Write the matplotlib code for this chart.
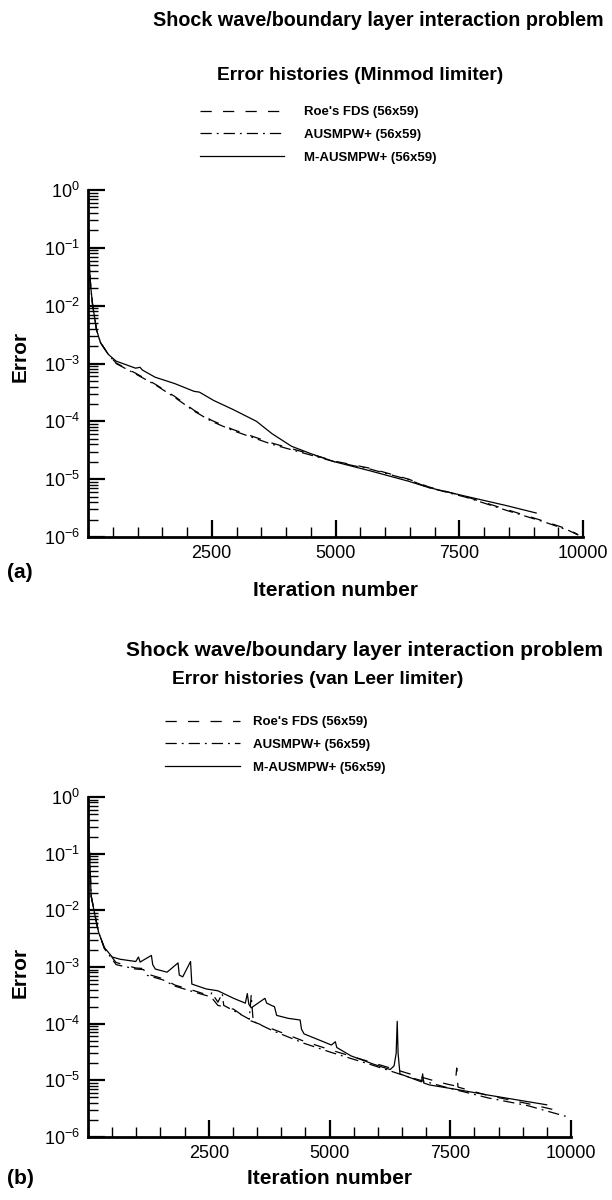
"""Error histories for the shock wave / boundary layer case, Minmod vs van Leer."""
import numpy as np
import matplotlib
matplotlib.use("Agg")
import matplotlib.pyplot as plt
from matplotlib.lines import Line2D
from matplotlib.ticker import LogLocator, MultipleLocator, FixedLocator, FuncFormatter, NullFormatter

plt.rcParams["font.family"] = ["Liberation Sans", "DejaVu Sans"]

LABELS = ["Roe's FDS (56x59)", "AUSMPW+ (56x59)", "M-AUSMPW+ (56x59)"]
TITLE = "Shock wave/boundary layer interaction problem"
SUBTITLES = ["Error histories (Minmod limiter)", "Error histories (van Leer limiter)"]
XTICKS = [2500, 5000, 7500, 10000]

# ---- (a) Minmod limiter ----
A_MAUS_X = [0, 32, 55, 95, 173, 252, 410, 567, 961, 1050, 1100, 1355, 1750, 2143, 2250,
            2537, 2931, 3404, 3719, 4113, 4507, 4980, 5690, 6478, 6872, 7660, 8448, 9054]
A_MAUS_Y = [0.5, 0.044, 0.021, 0.01, 3.8e-3, 2.3e-3, 1.44e-3, 1.1e-3, 8.3e-4, 8.6e-4, 7.7e-4,
            5.8e-4, 4.5e-4, 3.3e-4, 3.2e-4, 2.3e-4, 1.6e-4, 1.0e-4, 6.1e-5, 3.7e-5, 2.75e-5,
            2.0e-5, 1.4e-5, 9.2e-6, 7.2e-6, 5.0e-6, 3.5e-6, 2.6e-6]
A_AUS_X = [0, 32, 55, 95, 173, 252, 410, 567, 961, 1355, 1750, 2143, 2498, 2931, 3719,
           4507, 4980, 5690, 6478, 6872, 7660, 8448, 9236, 9708, 9944]
A_AUS_Y = [0.5, 0.044, 0.021, 0.01, 3.8e-3, 2.3e-3, 1.44e-3, 1.0e-3, 6.6e-4, 4.3e-4, 2.6e-4,
           1.5e-4, 1.0e-4, 6.9e-5, 4.0e-5, 2.6e-5, 2.0e-5, 1.5e-5, 9.8e-6, 7.2e-6, 4.8e-6,
           2.9e-6, 1.8e-6, 1.3e-6, 1.04e-6]
A_ROE_X = [0, 32, 55, 95, 173, 252, 410, 567, 961, 1355, 1750, 2143, 2498, 2931, 3719,
           4507, 4980, 5690, 6478, 6872, 7660, 8448, 9236, 9708, 9900]
A_ROE_Y = [0.5, 0.044, 0.021, 0.01, 3.8e-3, 2.3e-3, 1.44e-3, 1.02e-3, 6.8e-4, 4.4e-4, 2.7e-4,
           1.55e-4, 1.04e-4, 7.2e-5, 4.2e-5, 2.7e-5, 2.05e-5, 1.55e-5, 1.0e-5, 7.4e-6, 4.9e-6,
           3.0e-6, 1.85e-6, 1.35e-6, 1.1e-6]

# ---- (b) van Leer limiter ----
B_MAUS_X = [0, 32, 65, 138, 219, 340, 502, 665, 989, 1045, 1080, 1151, 1313, 1340, 1394,
            1637, 1864, 1890, 1961, 2123, 2150, 2447, 2690, 3015, 3258, 3298, 3330, 3379,
            3663, 3700, 3825, 3860, 3906, 4149, 4392, 4420, 4473, 4797, 5040, 5121, 5150,
            5446, 5932, 6256, 6337, 6380, 6402, 6420, 6459, 6904, 6929, 6950, 7066, 7634,
            8282, 9497]
B_MAUS_Y = [0.3, 0.1, 0.018, 8.7e-3, 4.1e-3, 2.2e-3, 1.5e-3, 1.37e-3, 1.25e-3, 1.5e-3,
            1.22e-3, 1.33e-3, 1.6e-3, 1.1e-3, 9.2e-4, 8.1e-4, 1.18e-3, 7.2e-4, 6.7e-4,
            1.25e-3, 5.0e-4, 4.1e-4, 3.8e-4, 2.8e-4, 2.3e-4, 3.4e-4, 2.2e-4, 1.9e-4, 2.8e-4,
            2.3e-4, 2.05e-4, 2.0e-4, 1.4e-4, 1.24e-4, 1.16e-4, 8.0e-5, 6.6e-5, 5.1e-5,
            4.2e-5, 4.8e-5, 3.8e-5, 2.7e-5, 1.9e-5, 1.55e-5, 1.8e-5, 3.0e-5, 1.1e-4, 3.0e-5,
            1.3e-5, 9.4e-6, 1.3e-5, 9.0e-6, 8.3e-6, 6.9e-6, 5.5e-6, 3.7e-6]
B_AUS_X = [0, 32, 65, 138, 219, 340, 583, 989, 1151, 1232, 1556, 1799, 2204, 2528, 2560,
           2690, 2780, 2810, 3015, 3339, 3379, 3420, 3825, 4473, 5040, 5851, 6661, 7472,
           8282, 9092, 9984]
B_AUS_Y = [0.3, 0.1, 0.018, 8.7e-3, 4.1e-3, 2.1e-3, 1.1e-3, 9.2e-4, 9.0e-4, 7.1e-4, 5.9e-4,
           4.6e-4, 3.6e-4, 3.0e-4, 3.5e-4, 2.4e-4, 3.4e-4, 2.1e-4, 1.7e-4, 1.2e-4, 3.2e-4,
           1.1e-4, 7.5e-5, 4.5e-5, 3.1e-5, 1.9e-5, 1.13e-5, 7.3e-6, 4.9e-6, 3.6e-6, 2.2e-6]
B_ROE_X = [0, 32, 65, 138, 219, 340, 583, 989, 1151, 1232, 1556, 1799, 2204, 2528, 2690,
           3015, 3339, 3825, 4473, 5040, 5851, 6661, 7228, 7430, 7600, 7634, 7660, 8282,
           9092, 9822]
B_ROE_Y = [0.3, 0.1, 0.018, 8.7e-3, 4.1e-3, 2.15e-3, 1.2e-3, 9.6e-4, 9.4e-4, 7.5e-4, 6.2e-4,
           4.8e-4, 3.8e-4, 3.1e-4, 2.1e-4, 1.8e-4, 1.15e-4, 8.0e-5, 4.9e-5, 3.4e-5, 2.1e-5,
           1.3e-5, 9.5e-6, 8.6e-6, 8.0e-6, 1.65e-5, 7.6e-6, 5.4e-6, 3.9e-6, 2.8e-6]

STYLES = [(0, (9, 9)), (0, (9, 4, 1.5, 4)), "-"]

fig = plt.figure(figsize=(6.12, 12), dpi=100)
W, H = 612.0, 1200.0


def px_axes(left, right, top, bottom):
    return fig.add_axes([left / W, 1 - bottom / H, (right - left) / W, (bottom - top) / H])


def sup(v, pos):
    return r"$\mathregular{10^{%d}}$" % int(round(np.log10(v)))


panels = [
    dict(box=(88, 583, 190, 537), data=[(A_ROE_X, A_ROE_Y), (A_AUS_X, A_AUS_Y), (A_MAUS_X, A_MAUS_Y)],
         title=(378, 20, 14.2), sub=(360, 75, 13.8), leg=(200, 106, 6.4, 1.5),
         tag=(20, 572, "(a)"), xl_y=590, yl_y=356),
    dict(box=(88, 571, 797, 1137), data=[(B_ROE_X, B_ROE_Y), (B_AUS_X, B_AUS_Y), (B_MAUS_X, B_MAUS_Y)],
         title=(365, 650, 15.0), sub=(318, 680, 13.8), leg=(165, 716, 5.7, 1.0),
         tag=(20, 1179, "(b)"), xl_y=1179, yl_y=972),
]

for i, p in enumerate(panels):
    l, r, t, b = p["box"]
    ax = px_axes(l, r, t, b)
    for (x, y), ls in zip(p["data"], STYLES):
        ax.plot(x, y, color="black", lw=0.9, ls=ls)
    ax.set_yscale("log")
    ax.set_ylim(1e-6, 1)
    ax.set_xlim(0, 10000)
    ax.xaxis.set_major_locator(FixedLocator(XTICKS))
    ax.xaxis.set_minor_locator(MultipleLocator(500))
    ax.yaxis.set_major_locator(LogLocator(base=10, numticks=10))
    ax.yaxis.set_minor_locator(LogLocator(base=10, subs=np.arange(2, 10), numticks=20))
    ax.yaxis.set_major_formatter(FuncFormatter(sup))
    ax.yaxis.set_minor_formatter(NullFormatter())
    ax.tick_params(which="major", direction="in", length=12, width=1.6, labelsize=13, pad=6)
    ax.tick_params(which="minor", direction="in", length=7, width=1.0)
    for s in ("top", "right"):
        ax.spines[s].set_visible(False)
    for s in ("left", "bottom"):
        ax.spines[s].set_linewidth(2.0)

    ax.set_ylabel("Error", fontsize=15, fontweight="bold", va="center")
    ax.yaxis.set_label_coords((20 - l) / (r - l), (b - p["yl_y"]) / (b - t))
    ax.set_xlabel("Iteration number", fontsize=15, fontweight="bold", va="center")
    ax.xaxis.set_label_coords(0.5, (b - p["xl_y"]) / (b - t))

    tx, ty, ts = p["title"]
    fig.text(tx / W, 1 - ty / H, TITLE, ha="center", va="center", fontsize=ts, fontweight="bold")
    sx, sy, ss = p["sub"]
    fig.text(sx / W, 1 - sy / H, SUBTITLES[i], ha="center", va="center", fontsize=ss,
             fontweight="bold")
    gx, gy, gt = p["tag"]
    fig.text(gx / W, 1 - gy / H, gt, ha="center", va="center", fontsize=15, fontweight="bold")

    handles = [Line2D([], [], color="black", lw=0.9, ls=ls) for ls in STYLES]
    lx, ly, hl, hp = p["leg"]
    fig.legend(handles, LABELS, loc="upper left", bbox_to_anchor=(lx / W, 1 - ly / H),
               bbox_transform=fig.transFigure, frameon=False, borderpad=0, borderaxespad=0,
               handlelength=hl, handletextpad=hp, labelspacing=0.8,
               prop=dict(size=9.5, weight="bold"))

fig.savefig("out.png", dpi=100)
